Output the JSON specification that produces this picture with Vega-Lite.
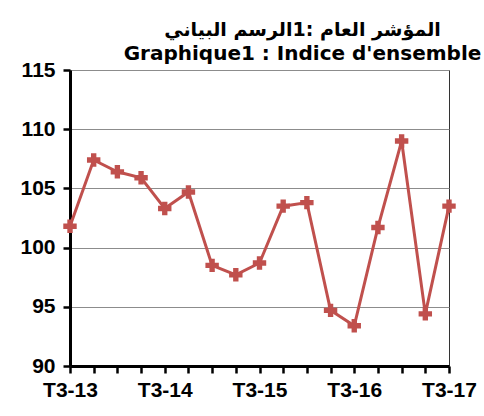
{
  "$schema": "https://vega.github.io/schema/vega-lite/v6.json",
  "width": 379,
  "height": 296,
  "autosize": {"type": "none"},
  "padding": {"left": 70, "top": 70, "right": 35, "bottom": 50},
  "background": "white",
  "title": {
    "text": "المؤشر العام :1الرسم البياني",
    "subtitle": "Graphique1 : Indice d'ensemble",
    "font": "DejaVu Sans",
    "fontSize": 19,
    "fontWeight": "bold",
    "color": "black",
    "subtitleFont": "DejaVu Sans",
    "subtitleFontSize": 20,
    "subtitleFontWeight": "bold",
    "subtitleColor": "black",
    "subtitlePadding": 4,
    "anchor": "middle",
    "dx": 43,
    "offset": -5
  },
  "config": {
    "view": {"stroke": "#333333", "strokeWidth": 1},
    "axis": {
      "labelFont": "Liberation Sans",
      "labelFontSize": 21,
      "labelFontWeight": "bold",
      "labelColor": "black",
      "domainColor": "black",
      "domainWidth": 3,
      "tickColor": "black",
      "tickWidth": 2.5,
      "tickSize": 7,
      "title": null
    }
  },
  "data": {
    "values": [
      {"q": "T3-13", "v": 101.8},
      {"q": "T4-13", "v": 107.4},
      {"q": "T1-14", "v": 106.4},
      {"q": "T2-14", "v": 105.9},
      {"q": "T3-14", "v": 103.3},
      {"q": "T4-14", "v": 104.7},
      {"q": "T1-15", "v": 98.5},
      {"q": "T2-15", "v": 97.7},
      {"q": "T3-15", "v": 98.7},
      {"q": "T4-15", "v": 103.5},
      {"q": "T1-16", "v": 103.8},
      {"q": "T2-16", "v": 94.7},
      {"q": "T3-16", "v": 93.4},
      {"q": "T4-16", "v": 101.7},
      {"q": "T1-17", "v": 109.0},
      {"q": "T2-17", "v": 94.4},
      {"q": "T3-17", "v": 103.5}
    ]
  },
  "encoding": {
    "x": {
      "field": "q",
      "type": "ordinal",
      "sort": null,
      "scale": {"type": "point", "padding": 0},
      "axis": {
        "labelAngle": 0,
        "labelPadding": 6,
        "labelExpr": "indexof(datum.value, 'T3') == 0 ? datum.value : ''",
        "labelOverlap": false,
        "grid": false
      }
    },
    "y": {
      "field": "v",
      "type": "quantitative",
      "scale": {"domain": [90, 115], "nice": false, "zero": false},
      "axis": {
        "values": [90, 95, 100, 105, 110, 115],
        "grid": true,
        "gridColor": "#8c8c8c",
        "gridWidth": 1.2,
        "labelPadding": 8
      }
    }
  },
  "layer": [
    {"mark": {"type": "line", "color": "#C0504D", "strokeWidth": 3}},
    {"mark": {"type": "point", "shape": "cross", "filled": true, "size": 180, "color": "#C0504D", "opacity": 1}}
  ]
}
